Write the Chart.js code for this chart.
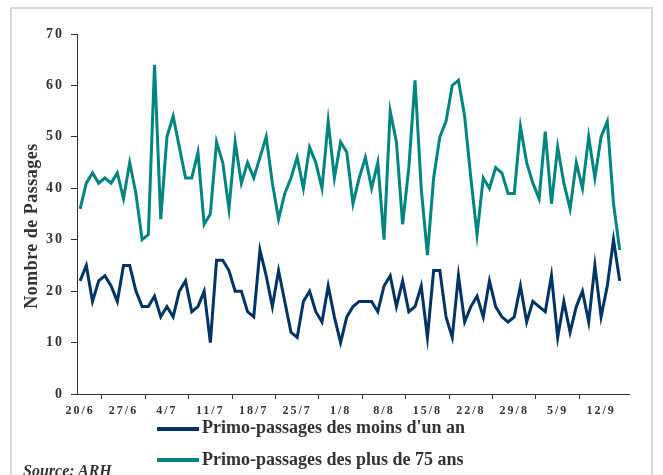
<!DOCTYPE html>
<html>
<head>
<meta charset="utf-8">
<script src="https://cdn.jsdelivr.net/npm/chart.js@4.4.1/dist/chart.umd.min.js"></script>
<style>
  body { margin: 0; background: #fff; }
  #wrap { position: relative; width: 663px; height: 475px; overflow: hidden;
          font-family: "Liberation Serif", "Times New Roman", serif; color: #333; }
  #frame { position: absolute; left: 10px; top: 7px; width: 643px; height: 500px;
           border: 2px solid #d8d8d8; box-sizing: border-box; }
  canvas { position: absolute; left: 0; top: 0; }
  .sw { position: absolute; left: 157px; width: 42px; height: 4px; }
  .lt { position: absolute; left: 202px; font-size: 18px; line-height: 20px;
        font-weight: bold; white-space: nowrap; }
  #source { position: absolute; left: 23px; top: 462px; font-size: 16px; line-height: 18px;
            font-style: italic; font-weight: bold; }
</style>
</head>
<body>
<div id="wrap">
  <div id="frame"></div>
  <canvas id="chart" width="663" height="475"></canvas>
  <div class="sw" style="top:427px; background:#003366"></div>
  <div class="lt" style="top:417px">Primo-passages des moins d'un an</div>
  <div class="sw" style="top:458px; background:#008580"></div>
  <div class="lt" style="top:449px">Primo-passages des plus de 75 ans</div>
  <div id="source">Source: ARH</div>
</div>
<script>
// jours du 20/6 au 16/9 (le dernier sans donnée)
const jours = [
  '20/6','21/6','22/6','23/6','24/6','25/6','26/6','27/6','28/6','29/6','30/6',
  '1/7','2/7','3/7','4/7','5/7','6/7','7/7','8/7','9/7','10/7','11/7','12/7','13/7','14/7','15/7',
  '16/7','17/7','18/7','19/7','20/7','21/7','22/7','23/7','24/7','25/7','26/7','27/7','28/7','29/7','30/7','31/7',
  '1/8','2/8','3/8','4/8','5/8','6/8','7/8','8/8','9/8','10/8','11/8','12/8','13/8','14/8','15/8',
  '16/8','17/8','18/8','19/8','20/8','21/8','22/8','23/8','24/8','25/8','26/8','27/8','28/8','29/8','30/8','31/8',
  '1/9','2/9','3/9','4/9','5/9','6/9','7/9','8/9','9/9','10/9','11/9','12/9','13/9','14/9','15/9','16/9'
];

const moinsUnAn = [
  22,25,18,22,23,21,18,25,25,20,17,17,19,15,17,15,20,22,16,17,20,10,26,26,24,20,20,16,15,28,
  23,17,24,18,12,11,18,20,16,14,21,15,10,15,17,18,18,18,16,21,23,17,22,16,17,21,11,24,24,15,
  11,23,14,17,19,15,22,17,15,14,15,21,14,18,17,16,23,11,18,12,17,20,14,25,15,21,30,22
];

const plus75 = [
  36,41,43,41,42,41,43,38,45,39,30,31,64,34,50,54,48,42,42,47,33,35,49,45,36,49,41,45,42,46,
  50,41,34,39,42,46,40,48,45,40,53,42,49,47,37,42,46,40,45,30,55,49,33,44,61,40,27,42,50,53,
  60,61,54,42,31,42,40,44,43,39,39,52,45,41,38,51,37,48,41,36,45,40,50,42,50,53,37,28
];

const axeY = { min: 0, max: 70, pas: 10 };
const titreY = 'Nombre de Passages';

const gris = '#333';

// espacement des lettres comme dans l'original Excel + titre vertical
const espacement = {
  id: 'espacement',
  beforeDraw(chart) { chart.ctx.letterSpacing = '2px'; },
  afterDraw(chart) {
    const ctx = chart.ctx;
    ctx.save();
    ctx.letterSpacing = '0.5px';
    ctx.font = 'bold 18px "Liberation Serif"';
    ctx.fillStyle = gris;
    ctx.textAlign = 'center';
    ctx.textBaseline = 'middle';
    ctx.translate(32, 226);
    ctx.rotate(-Math.PI / 2);
    ctx.fillText(titreY, 0, 0);
    ctx.restore();
  }
};

new Chart(document.getElementById('chart'), {
  type: 'line',
  data: {
    labels: jours,
    datasets: [
      { label: "Primo-passages des moins d'un an", data: moinsUnAn,
        borderColor: '#003366', borderWidth: 3, pointRadius: 0, tension: 0 },
      { label: 'Primo-passages des plus de 75 ans', data: plus75,
        borderColor: '#008580', borderWidth: 3, pointRadius: 0, tension: 0 }
    ]
  },
  options: {
    responsive: false,
    animation: false,
    layout: { padding: { left: 0, right: 34, top: 34, bottom: 0 } },
    plugins: { legend: { display: false }, tooltip: { enabled: false } },
    scales: {
      x: {
        offset: true,
        grid: { offset: true, drawOnChartArea: false, drawTicks: true, tickLength: 5,
                color: c => (c.type === 'tick' ? gris : 'rgba(0,0,0,0)') },
        border: { display: true, color: gris, width: 1 },
        ticks: {
          autoSkip: false, maxRotation: 0, padding: 5, color: gris,
          font: { family: 'Liberation Serif', size: 12, weight: 'bold' },
          callback: function (v, i) { return i % 7 === 0 ? this.getLabelForValue(v) : null; }
        },
        afterFit(s) { s.height = 81; }
      },
      y: {
        min: axeY.min, max: axeY.max,
        grid: { drawOnChartArea: false, drawTicks: true, tickLength: 6, color: gris },
        border: { display: true, color: gris, width: 1 },
        ticks: { stepSize: axeY.pas, padding: 7, color: gris,
                 font: { family: 'Liberation Serif', size: 14, weight: 'bold' } },
        afterFit(s) { s.width = 77; }
      }
    }
  },
  plugins: [espacement]
});
</script>
</body>
</html>
